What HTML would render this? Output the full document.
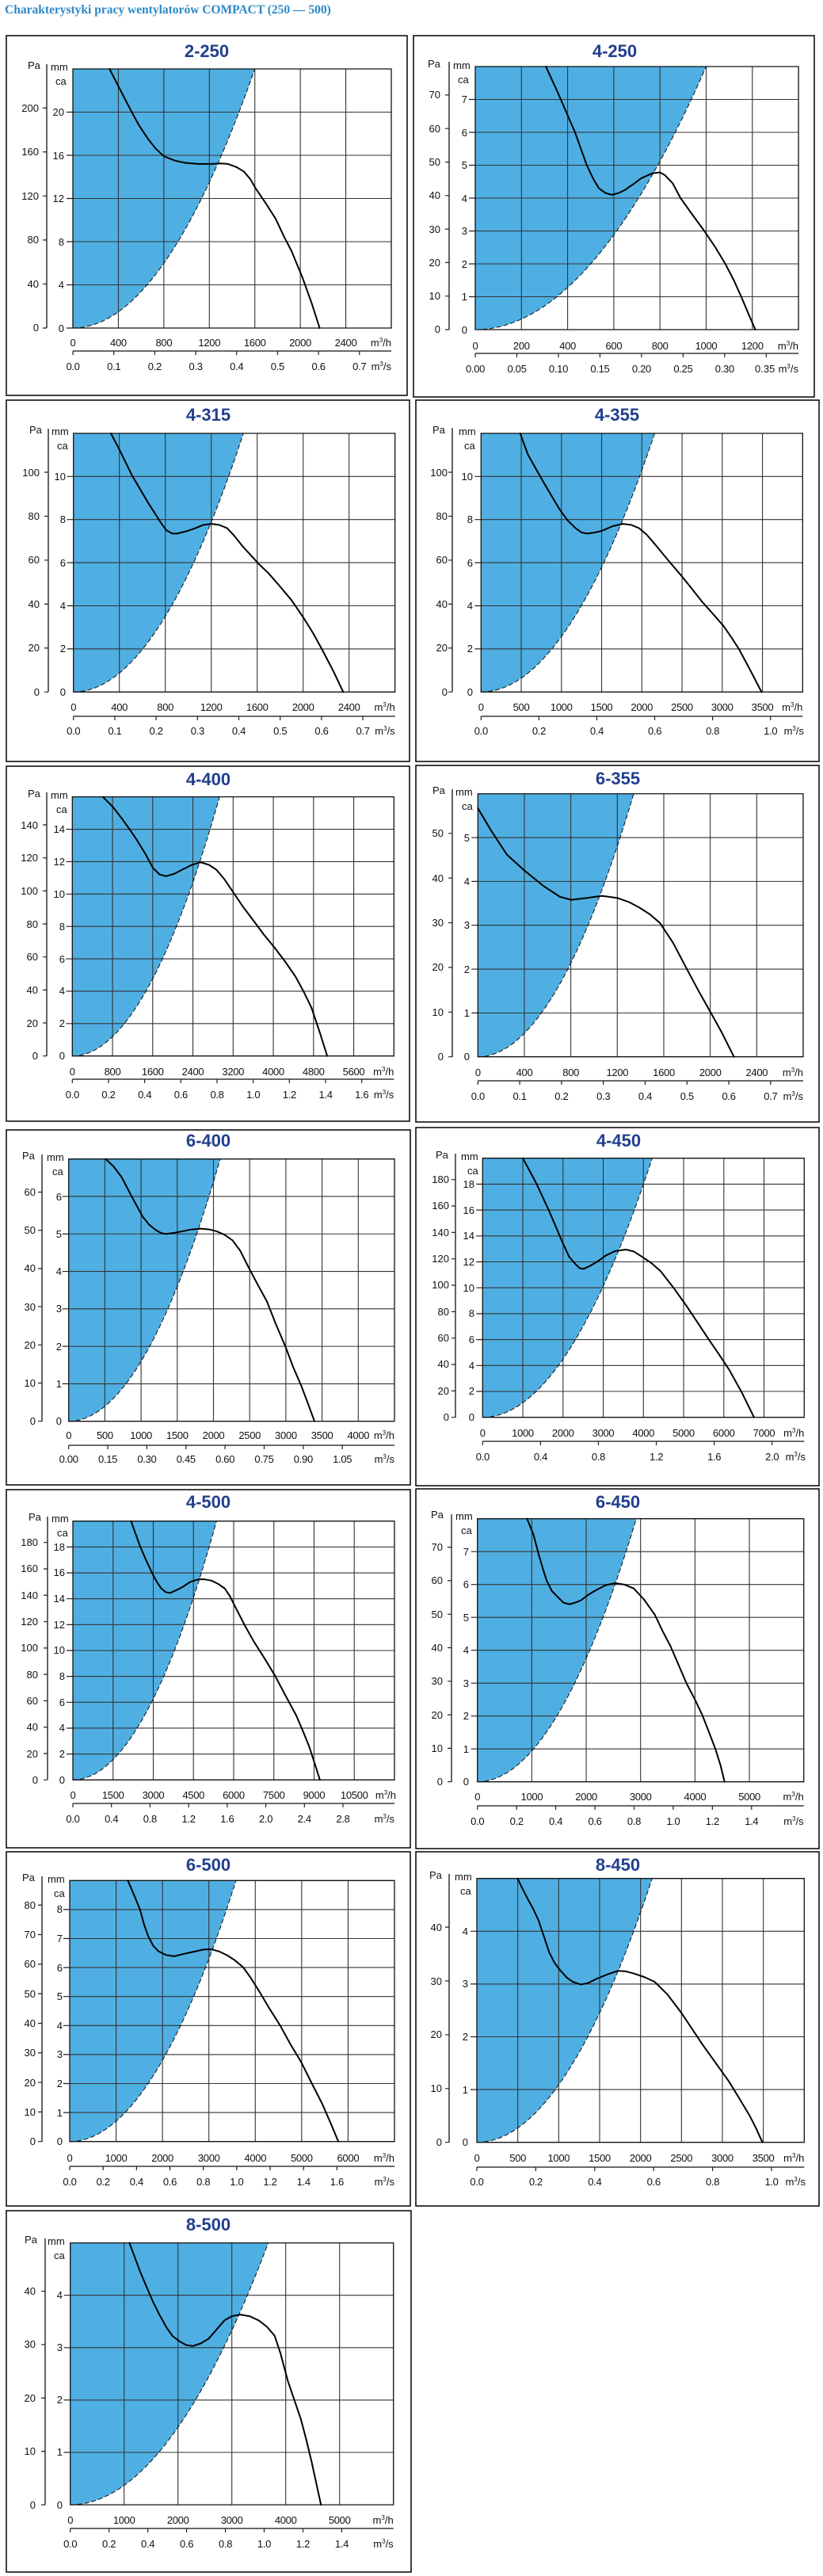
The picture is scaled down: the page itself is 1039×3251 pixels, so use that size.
<!DOCTYPE html>
<html><head><meta charset="utf-8"><style>
body{margin:0;width:1039px;height:3251px;position:relative;background:#fff;font-family:"Liberation Sans",Arial,sans-serif;overflow:hidden;color:#111}
svg{position:absolute;left:0;top:0}
.g path,.g rect,.g polyline{vector-effect:non-scaling-stroke}
.fl{fill:#4fafe2;stroke:none}
.gr{fill:none;stroke:#333;stroke-width:1.1}
.bd{fill:none;stroke:#111;stroke-width:1.3}
.ds{fill:none;stroke:#111;stroke-width:1;stroke-dasharray:6 3}
.cv{fill:none;stroke:#000;stroke-width:2;stroke-linejoin:round;stroke-linecap:round}
.tk{fill:none;stroke:#222;stroke-width:1.2}
.x{position:absolute;display:flex;font-size:13px;height:16px;line-height:16px;letter-spacing:-0.3px}
.x span{flex:1;text-align:center;white-space:nowrap}
.y{position:absolute;display:flex;flex-direction:column;font-size:13px;width:40px}
.y span{flex:1;display:flex;align-items:center;justify-content:flex-end}
.u{position:absolute;font-size:13px;line-height:16px;width:40px;text-align:right}
.u sup{font-size:8px;vertical-align:5px;line-height:0}
.l{position:absolute;font-size:13px;line-height:16px}
.t{position:absolute;font-weight:bold;color:#213f8d;font-size:22px;line-height:24px;width:120px;margin-left:-60px;text-align:center}
.h{position:absolute;left:6px;top:4px;font-family:"Liberation Serif",serif;font-weight:bold;font-size:15.5px;color:#2c88c6}
</style></head><body>
<svg width="1039" height="3251" viewBox="0 0 1039 3251">
<g fill="none" stroke="#000" stroke-width="1.5">
<rect x="8" y="45" width="506" height="454"/><rect x="522" y="45" width="506" height="456"/>
<rect x="8" y="505" width="509" height="456"/><rect x="525" y="505" width="509" height="456"/>
<rect x="8" y="967" width="509" height="448"/><rect x="525" y="966" width="509" height="450"/>
<rect x="8" y="1426" width="510" height="448"/><rect x="525" y="1423" width="509" height="452"/>
<rect x="8" y="1880" width="510" height="452"/><rect x="525" y="1879" width="509" height="454"/>
<rect x="8" y="2337" width="510" height="447"/><rect x="525" y="2337" width="509" height="447"/>
<rect x="8" y="2790" width="511" height="456"/>
</g>
<g stroke="#111" stroke-width="1.3">
<line x1="59" y1="81" x2="59" y2="414"/><line x1="567" y1="78" x2="567" y2="416"/>
<line x1="61" y1="541" x2="61" y2="873"/><line x1="571" y1="540" x2="571" y2="873"/>
<line x1="59" y1="1000" x2="59" y2="1333"/><line x1="571" y1="996" x2="571" y2="1334"/>
<line x1="53" y1="1457" x2="53" y2="1794"/><line x1="575" y1="1456" x2="575" y2="1789"/>
<line x1="60" y1="1914" x2="60" y2="2246"/><line x1="570" y1="1911" x2="570" y2="2249"/>
<line x1="53" y1="2368" x2="53" y2="2703"/><line x1="567" y1="2365" x2="567" y2="2704"/>
<line x1="57" y1="2825" x2="57" y2="3161"/>
<line x1="92" y1="443" x2="494" y2="443"/><line x1="600" y1="446" x2="1008" y2="446"/>
<line x1="92.7" y1="904" x2="498.7" y2="904"/><line x1="607.3" y1="904" x2="1013.3" y2="904"/>
<line x1="91.3" y1="1362" x2="497.3" y2="1362"/><line x1="603.3" y1="1364" x2="1014" y2="1364"/>
<line x1="86.7" y1="1824" x2="498" y2="1824"/><line x1="609.3" y1="1819" x2="1015.3" y2="1819"/>
<line x1="92" y1="2276" x2="498" y2="2276"/><line x1="602.7" y1="2279" x2="1014.7" y2="2279"/>
<line x1="88" y1="2734" x2="498" y2="2734"/><line x1="602" y1="2735" x2="1015.3" y2="2735"/>
<line x1="88.7" y1="3191" x2="496.7" y2="3191"/>
</g>

<!-- P1 -->
<g class="g" transform="translate(92,414) scale(0.14357,-13.625)">
<path class="fl" d="M0,0Q800,0 1600,24L0,24Z"/>
<path class="gr" d="M400,0V24M800,0V24M1200,0V24M1600,0V24M2000,0V24M2400,0V24M0,4H2800M0,8H2800M0,12H2800M0,16H2800M0,20H2800"/>
<path class="ds" d="M0,0Q800,0 1600,24"/>
<rect class="bd" x="0" y="0" width="2800" height="24"/>
<path class="tk" d="M0,0H-0"/>
<polyline class="cv" points="322,24 498,20.4 580,18.8 662,17.5 730,16.6 802,15.9 900,15.5 988,15.3 1100,15.2 1223,15.2 1300,15.25 1363,15.2 1440,14.9 1503,14.5 1560,13.8 1609,12.9 1700,11.5 1784,10.1 1860,8.4 1924,7.1 2018,4.7 2100,2.3 2170,0"/>
</g>
<g class="g" transform="translate(92,443) scale(0.14357,1)"><path class="tk" d="M0,0V5M360,0V5M720,0V5M1080,0V5M1440,0V5M1800,0V5M2160,0V5M2520,0V5"/></g>
<g class="g" transform="translate(59,414) scale(1,-1.3889)"><path class="tk" d="M-5,0H0M-5,40H0M-5,80H0M-5,120H0M-5,160H0M-5,200H0"/></g>
<g class="g" transform="translate(92,414) scale(1,-13.625)"><path class="tk" d="M-8,0H0M-8,4H0M-8,8H0M-8,12H0M-8,16H0M-8,20H0"/></g>

<!-- P2 -->
<g class="g" transform="translate(600,416) scale(0.2915,-41.5)">
<path class="fl" d="M0,0Q500,0 1000,8L0,8Z"/>
<path class="gr" d="M200,0V8M400,0V8M600,0V8M800,0V8M1000,0V8M1200,0V8M0,1H1400M0,2H1400M0,3H1400M0,4H1400M0,5H1400M0,6H1400M0,7H1400"/>
<path class="ds" d="M0,0Q500,0 1000,8"/>
<rect class="bd" x="0" y="0" width="1400" height="8"/>
<polyline class="cv" points="306,8 358,7.2 432,6 483,5 510,4.6 535,4.3 565,4.15 592,4.1 620,4.15 649,4.25 690,4.45 718,4.6 769,4.76 800,4.78 821,4.7 855,4.45 889,4 940,3.5 992,3 1040,2.5 1083,2 1120,1.5 1152,1 1185,0.45 1213,0"/>
</g>
<g class="g" transform="translate(600,446) scale(0.2915,1)"><path class="tk" d="M0,0V5M180,0V5M360,0V5M540,0V5M720,0V5M900,0V5M1080,0V5M1260,0V5"/></g>
<g class="g" transform="translate(567,416) scale(1,-4.23)"><path class="tk" d="M-5,0H0M-5,10H0M-5,20H0M-5,30H0M-5,40H0M-5,50H0M-5,60H0M-5,70H0"/></g>
<g class="g" transform="translate(600,416) scale(1,-41.5)"><path class="tk" d="M-8,1H0M-8,2H0M-8,3H0M-8,4H0M-8,5H0M-8,6H0M-8,7H0"/></g>

<!-- P3 -->
<g class="g" transform="translate(92.7,873.3) scale(0.145,-27.2)">
<path class="fl" d="M0,0Q740,0 1480,12L0,12Z"/>
<path class="gr" d="M400,0V12M800,0V12M1200,0V12M1600,0V12M2000,0V12M2400,0V12M0,2H2800M0,4H2800M0,6H2800M0,8H2800M0,10H2800"/>
<path class="ds" d="M0,0Q740,0 1480,12"/>
<rect class="bd" x="0" y="0" width="2800" height="12"/>
<polyline class="cv" points="326,12 395,11.3 510,10.05 648,8.8 720,8.2 763,7.84 810,7.5 860,7.35 901,7.35 980,7.45 1062,7.6 1130,7.75 1200,7.8 1270,7.75 1338,7.6 1400,7.25 1476,6.74 1614,5.94 1700,5.5 1798,4.9 1900,4.25 2005,3.43 2090,2.7 2166,1.96 2260,1 2349,0"/>
</g>
<g class="g" transform="translate(92.7,904) scale(0.145,1)"><path class="tk" d="M0,0V5M360,0V5M720,0V5M1080,0V5M1440,0V5M1800,0V5M2160,0V5M2520,0V5"/></g>
<g class="g" transform="translate(61,873.3) scale(1,-2.7727)"><path class="tk" d="M-5,0H0M-5,20H0M-5,40H0M-5,60H0M-5,80H0M-5,100H0"/></g>
<g class="g" transform="translate(92.7,873.3) scale(1,-27.2)"><path class="tk" d="M-8,2H0M-8,4H0M-8,6H0M-8,8H0M-8,10H0"/></g>

<!-- P4 -->
<g class="g" transform="translate(607.3,873.3) scale(0.1015,-27.2)">
<path class="fl" d="M0,0Q1080,0 2160,12L0,12Z"/>
<path class="gr" d="M500,0V12M1000,0V12M1500,0V12M2000,0V12M2500,0V12M3000,0V12M3500,0V12M0,2H4000M0,4H4000M0,6H4000M0,8H4000M0,10H4000"/>
<path class="ds" d="M0,0Q1080,0 2160,12"/>
<rect class="bd" x="0" y="0" width="4000" height="12"/>
<polyline class="cv" points="486,12 585,11 782,9.7 979,8.46 1080,7.95 1176,7.6 1250,7.4 1321,7.35 1420,7.4 1505,7.48 1640,7.7 1767,7.8 1870,7.75 1965,7.6 2060,7.3 2162,6.86 2330,6.1 2490,5.4 2620,4.8 2753,4.17 2890,3.6 3016,3.06 3120,2.5 3213,1.96 3350,1 3489,0"/>
</g>
<g class="g" transform="translate(607.3,904) scale(0.1015,1)"><path class="tk" d="M0,0V5M720,0V5M1440,0V5M2160,0V5M2880,0V5M3600,0V5"/></g>
<g class="g" transform="translate(571,873.3) scale(1,-2.7727)"><path class="tk" d="M-5,0H0M-5,20H0M-5,40H0M-5,60H0M-5,80H0M-5,100H0"/></g>
<g class="g" transform="translate(607.3,873.3) scale(1,-27.2)"><path class="tk" d="M-8,2H0M-8,4H0M-8,6H0M-8,8H0M-8,10H0"/></g>

<!-- P5 -->
<g class="g" transform="translate(91.3,1332.7) scale(0.06344,-20.44)">
<path class="fl" d="M0,0Q1465,0 2930,16L0,16Z"/>
<path class="gr" d="M800,0V16M1600,0V16M2400,0V16M3200,0V16M4000,0V16M4800,0V16M5600,0V16M0,2H6400M0,4H6400M0,6H6400M0,8H6400M0,10H6400M0,12H6400M0,14H6400"/>
<path class="ds" d="M0,0Q1465,0 2930,16"/>
<rect class="bd" x="0" y="0" width="6400" height="16"/>
<polyline class="cv" points="609,16 800,15.4 977,14.7 1140,14 1292,13.3 1450,12.5 1607,11.6 1740,11.2 1869,11.1 2030,11.25 2184,11.5 2380,11.8 2552,11.96 2720,11.8 2867,11.5 3030,10.9 3182,10.2 3400,9.2 3602,8.37 3810,7.5 4022,6.7 4230,5.85 4442,4.9 4600,4 4757,3 4920,1.5 5072,0"/>
</g>
<g class="g" transform="translate(91.3,1362) scale(0.06344,1)"><path class="tk" d="M0,0V5M720,0V5M1440,0V5M2160,0V5M2880,0V5M3600,0V5M4320,0V5M5040,0V5M5760,0V5"/></g>
<g class="g" transform="translate(59,1332.7) scale(1,-2.0836)"><path class="tk" d="M-5,0H0M-5,20H0M-5,40H0M-5,60H0M-5,80H0M-5,100H0M-5,120H0M-5,140H0"/></g>
<g class="g" transform="translate(91.3,1332.7) scale(1,-20.44)"><path class="tk" d="M-8,2H0M-8,4H0M-8,6H0M-8,8H0M-8,10H0M-8,12H0M-8,14H0"/></g>

<!-- P6 -->
<g class="g" transform="translate(603.3,1333.7) scale(0.14667,-55.33)">
<path class="fl" d="M0,0Q670,0 1341,6L0,6Z"/>
<path class="gr" d="M400,0V6M800,0V6M1200,0V6M1600,0V6M2000,0V6M2400,0V6M0,1H2800M0,2H2800M0,3H2800M0,4H2800M0,5H2800"/>
<path class="ds" d="M0,0Q670,0 1341,6"/>
<rect class="bd" x="0" y="0" width="2800" height="6"/>
<polyline class="cv" points="0,5.67 114,5.16 250,4.61 400,4.25 568,3.89 705,3.65 804,3.58 932,3.62 1068,3.67 1204,3.62 1300,3.53 1386,3.41 1480,3.25 1568,3.05 1680,2.6 1795,2.02 1900,1.5 2000,1.03 2100,0.55 2204,0"/>
</g>
<g class="g" transform="translate(603.3,1364) scale(0.14667,1)"><path class="tk" d="M0,0V5M360,0V5M720,0V5M1080,0V5M1440,0V5M1800,0V5M2160,0V5M2520,0V5"/></g>
<g class="g" transform="translate(571,1333.7) scale(1,-5.64)"><path class="tk" d="M-5,0H0M-5,10H0M-5,20H0M-5,30H0M-5,40H0M-5,50H0"/></g>
<g class="g" transform="translate(603.3,1333.7) scale(1,-55.33)"><path class="tk" d="M-8,1H0M-8,2H0M-8,3H0M-8,4H0M-8,5H0"/></g>

<!-- P7 -->
<g class="g" transform="translate(86.7,1793.7) scale(0.0914,-47.29)">
<path class="fl" d="M0,0Q1046,0 2093,7L0,7Z"/>
<path class="gr" d="M500,0V7M1000,0V7M1500,0V7M2000,0V7M2500,0V7M3000,0V7M3500,0V7M4000,0V7M0,1H4500M0,2H4500M0,3H4500M0,4H4500M0,5H4500M0,6H4500"/>
<path class="ds" d="M0,0Q1046,0 2093,7"/>
<rect class="bd" x="0" y="0" width="4500" height="7"/>
<polyline class="cv" points="511,7 620,6.8 730,6.52 870,6 1022,5.46 1110,5.25 1205,5.1 1280,5.02 1351,5 1460,5.03 1570,5.07 1700,5.12 1825,5.14 1940,5.12 2044,5.07 2150,4.98 2263,4.83 2370,4.55 2482,4.12 2610,3.65 2738,3.2 2860,2.6 2993,2 3100,1.45 3212,0.95 3300,0.5 3395,0"/>
</g>
<g class="g" transform="translate(86.7,1824) scale(0.0914,1)"><path class="tk" d="M0,0V5M540,0V5M1080,0V5M1620,0V5M2160,0V5M2700,0V5M3240,0V5M3780,0V5"/></g>
<g class="g" transform="translate(53,1793.7) scale(1,-4.8206)"><path class="tk" d="M-5,0H0M-5,10H0M-5,20H0M-5,30H0M-5,40H0M-5,50H0M-5,60H0"/></g>
<g class="g" transform="translate(86.7,1793.7) scale(1,-47.29)"><path class="tk" d="M-8,1H0M-8,2H0M-8,3H0M-8,4H0M-8,5H0M-8,6H0"/></g>

<!-- P8 -->
<g class="g" transform="translate(609.3,1788.7) scale(0.05075,-16.35)">
<path class="fl" d="M0,0Q2108,0 4217,20L0,20Z"/>
<path class="gr" d="M1000,0V20M2000,0V20M3000,0V20M4000,0V20M5000,0V20M6000,0V20M7000,0V20M0,2H8000M0,4H8000M0,6H8000M0,8H8000M0,10H8000M0,12H8000M0,14H8000M0,16H8000M0,18H8000"/>
<path class="ds" d="M0,0Q2108,0 4217,20"/>
<rect class="bd" x="0" y="0" width="8000" height="20"/>
<polyline class="cv" points="1000,20 1329,18.1 1658,15.9 1987,13.5 2150,12.4 2316,11.8 2420,11.5 2514,11.46 2680,11.7 2843,12 3070,12.5 3303,12.84 3566,12.95 3760,12.8 3961,12.4 4200,11.9 4422,11.3 4750,10 5080,8.56 5350,7.3 5606,6.1 5870,4.9 6133,3.67 6450,1.9 6751,0"/>
</g>
<g class="g" transform="translate(609.3,1819) scale(0.05075,1)"><path class="tk" d="M0,0V5M1440,0V5M2880,0V5M4320,0V5M5760,0V5M7200,0V5"/></g>
<g class="g" transform="translate(575,1788.7) scale(1,-1.6667)"><path class="tk" d="M-5,0H0M-5,20H0M-5,40H0M-5,60H0M-5,80H0M-5,100H0M-5,120H0M-5,140H0M-5,160H0M-5,180H0"/></g>
<g class="g" transform="translate(609.3,1788.7) scale(1,-16.35)"><path class="tk" d="M-8,2H0M-8,4H0M-8,6H0M-8,8H0M-8,10H0M-8,12H0M-8,14H0M-8,16H0M-8,18H0"/></g>

<!-- P9 -->
<g class="g" transform="translate(92,2246.3) scale(0.03383,-16.33)">
<path class="fl" d="M0,0Q2680,0 5360,20L0,20Z"/>
<path class="gr" d="M1500,0V20M3000,0V20M4500,0V20M6000,0V20M7500,0V20M9000,0V20M10500,0V20M0,2H12000M0,4H12000M0,6H12000M0,8H12000M0,10H12000M0,12H12000M0,14H12000M0,16H12000M0,18H12000"/>
<path class="ds" d="M0,0Q2680,0 5360,20"/>
<rect class="bd" x="0" y="0" width="12000" height="20"/>
<polyline class="cv" points="2171,20 2507,18.06 2750,16.9 3000,15.8 3150,15.25 3296,14.8 3470,14.5 3632,14.45 3850,14.65 4086,14.9 4380,15.3 4678,15.5 4920,15.5 5172,15.4 5420,15.15 5665,14.8 5860,14.2 6060,13.37 6400,12 6751,10.7 7150,9.4 7541,8.06 7940,6.5 8330,5 8580,3.8 8824,2.55 9020,1.3 9219,0"/>
</g>
<g class="g" transform="translate(92,2276) scale(0.03383,1)"><path class="tk" d="M0,0V5M1440,0V5M2880,0V5M4320,0V5M5760,0V5M7200,0V5M8640,0V5M10080,0V5"/></g>
<g class="g" transform="translate(60,2246.3) scale(1,-1.6646)"><path class="tk" d="M-5,0H0M-5,20H0M-5,40H0M-5,60H0M-5,80H0M-5,100H0M-5,120H0M-5,140H0M-5,160H0M-5,180H0"/></g>
<g class="g" transform="translate(92,2246.3) scale(1,-16.33)"><path class="tk" d="M-8,2H0M-8,4H0M-8,6H0M-8,8H0M-8,10H0M-8,12H0M-8,14H0M-8,16H0M-8,18H0"/></g>

<!-- P10 -->
<g class="g" transform="translate(602.7,2248.7) scale(0.06867,-41.5)">
<path class="fl" d="M0,0Q1460,0 2921,8L0,8Z"/>
<path class="gr" d="M1000,0V8M2000,0V8M3000,0V8M4000,0V8M5000,0V8M0,1H6000M0,2H6000M0,3H6000M0,4H6000M0,5H6000M0,6H6000M0,7H6000"/>
<path class="ds" d="M0,0Q1460,0 2921,8"/>
<rect class="bd" x="0" y="0" width="6000" height="8"/>
<polyline class="cv" points="913,8 1029,7.53 1126,6.92 1200,6.5 1272,6.12 1370,5.8 1466,5.64 1580,5.45 1690,5.4 1800,5.45 1903,5.52 2050,5.7 2194,5.84 2360,5.98 2534,6.04 2700,6 2874,5.88 3060,5.55 3262,5.08 3400,4.6 3554,4.11 3700,3.55 3845,2.99 4000,2.5 4137,2.02 4260,1.5 4379,0.98 4470,0.5 4544,0"/>
</g>
<g class="g" transform="translate(602.7,2279) scale(0.06867,1)"><path class="tk" d="M0,0V5M720,0V5M1440,0V5M2160,0V5M2880,0V5M3600,0V5M4320,0V5M5040,0V5"/></g>
<g class="g" transform="translate(570,2248.7) scale(1,-4.23)"><path class="tk" d="M-5,0H0M-5,10H0M-5,20H0M-5,30H0M-5,40H0M-5,50H0M-5,60H0M-5,70H0"/></g>
<g class="g" transform="translate(602.7,2248.7) scale(1,-41.5)"><path class="tk" d="M-8,1H0M-8,2H0M-8,3H0M-8,4H0M-8,5H0M-8,6H0M-8,7H0"/></g>

<!-- P11 -->
<g class="g" transform="translate(88,2702.7) scale(0.05857,-36.6)">
<path class="fl" d="M0,0Q1792,0 3585,9L0,9Z"/>
<path class="gr" d="M1000,0V9M2000,0V9M3000,0V9M4000,0V9M5000,0V9M6000,0V9M0,1H7000M0,2H7000M0,3H7000M0,4H7000M0,5H7000M0,6H7000M0,7H7000M0,8H7000"/>
<path class="ds" d="M0,0Q1792,0 3585,9"/>
<rect class="bd" x="0" y="0" width="7000" height="9"/>
<polyline class="cv" points="1254,9 1400,8.45 1516,8 1600,7.5 1687,7.1 1800,6.75 1915,6.56 2080,6.43 2257,6.39 2490,6.48 2713,6.56 2880,6.62 3055,6.63 3230,6.55 3397,6.42 3560,6.25 3739,6.01 3900,5.65 4081,5.19 4300,4.6 4537,4 4760,3.35 4993,2.73 5220,2 5449,1.28 5620,0.65 5791,0"/>
</g>
<g class="g" transform="translate(88,2734) scale(0.05857,1)"><path class="tk" d="M0,0V5M720,0V5M1440,0V5M2160,0V5M2880,0V5M3600,0V5M4320,0V5M5040,0V5M5760,0V5"/></g>
<g class="g" transform="translate(53,2702.7) scale(1,-3.7309)"><path class="tk" d="M-5,0H0M-5,10H0M-5,20H0M-5,30H0M-5,40H0M-5,50H0M-5,60H0M-5,70H0M-5,80H0"/></g>
<g class="g" transform="translate(88,2702.7) scale(1,-36.6)"><path class="tk" d="M-8,1H0M-8,2H0M-8,3H0M-8,4H0M-8,5H0M-8,6H0M-8,7H0M-8,8H0"/></g>

<!-- P12 -->
<g class="g" transform="translate(602,2703.7) scale(0.10333,-66.6)">
<path class="fl" d="M0,0Q1071,0 2142,5L0,5Z"/>
<path class="gr" d="M500,0V5M1000,0V5M1500,0V5M2000,0V5M2500,0V5M3000,0V5M3500,0V5M0,1H4000M0,2H4000M0,3H4000M0,4H4000"/>
<path class="ds" d="M0,0Q1071,0 2142,5"/>
<rect class="bd" x="0" y="0" width="4000" height="5"/>
<polyline class="cv" points="497,5 560,4.8 626,4.6 690,4.42 755,4.2 820,3.9 884,3.6 950,3.4 1013,3.27 1100,3.12 1174,3.04 1271,2.99 1360,3.02 1464,3.1 1590,3.18 1722,3.25 1820,3.24 1916,3.2 2050,3.13 2174,3.04 2330,2.8 2496,2.46 2630,2.15 2754,1.86 2920,1.5 3077,1.16 3200,0.85 3335,0.5 3410,0.27 3489,0"/>
</g>
<g class="g" transform="translate(602,2735) scale(0.10333,1)"><path class="tk" d="M0,0V5M720,0V5M1440,0V5M2160,0V5M2880,0V5M3600,0V5"/></g>
<g class="g" transform="translate(567,2703.7) scale(1,-6.789)"><path class="tk" d="M-5,0H0M-5,10H0M-5,20H0M-5,30H0M-5,40H0"/></g>
<g class="g" transform="translate(602,2703.7) scale(1,-66.6)"><path class="tk" d="M-8,1H0M-8,2H0M-8,3H0M-8,4H0"/></g>

<!-- P13 -->
<g class="g" transform="translate(88.7,3161.1) scale(0.068,-66.1)">
<path class="fl" d="M0,0Q1838,0 3676,5L0,5Z"/>
<path class="gr" d="M1000,0V5M2000,0V5M3000,0V5M4000,0V5M5000,0V5M0,1H6000M0,2H6000M0,3H6000M0,4H6000"/>
<path class="ds" d="M0,0Q1838,0 3676,5"/>
<rect class="bd" x="0" y="0" width="6000" height="5"/>
<polyline class="cv" points="1098,5 1200,4.72 1294,4.46 1420,4.15 1539,3.87 1660,3.62 1784,3.39 1900,3.22 2029,3.12 2150,3.05 2274,3.03 2420,3.08 2568,3.17 2720,3.35 2862,3.52 3000,3.6 3156,3.63 3330,3.6 3499,3.52 3650,3.4 3793,3.23 3900,2.9 4038,2.37 4160,2 4283,1.63 4380,1.25 4479,0.83 4570,0.4 4655,0"/>
</g>
<g class="g" transform="translate(88.7,3191) scale(0.068,1)"><path class="tk" d="M0,0V5M720,0V5M1440,0V5M2160,0V5M2880,0V5M3600,0V5M4320,0V5M5040,0V5"/></g>
<g class="g" transform="translate(57,3161.1) scale(1,-6.738)"><path class="tk" d="M-5,0H0M-5,10H0M-5,20H0M-5,30H0M-5,40H0"/></g>
<g class="g" transform="translate(88.7,3161.1) scale(1,-66.1)"><path class="tk" d="M-8,1H0M-8,2H0M-8,3H0M-8,4H0"/></g>
</svg>

<div class="h">Charakterystyki pracy wentylatorów COMPACT (250 — 500)</div>

<!-- P1 labels -->
<div class="t" style="left:261px;top:53px">2-250</div>
<div class="l" style="left:35px;top:75px">Pa</div><div class="l" style="left:64px;top:77px">mm</div><div class="l" style="left:70px;top:95px">ca</div>
<div class="y" style="left:9px;top:108.4px;height:333.4px"><span>200</span><span>160</span><span>120</span><span>80</span><span>40</span><span>0</span></div>
<div class="y" style="left:41px;top:114.25px;height:327px"><span>20</span><span>16</span><span>12</span><span>8</span><span>4</span><span>0</span></div>
<div class="x" style="left:63.3px;top:425px;width:402px"><span>0</span><span>400</span><span>800</span><span>1200</span><span>1600</span><span>2000</span><span>2400</span></div>
<div class="u" style="left:454px;top:425px">m<sup>3</sup>/h</div>
<div class="x" style="left:66.2px;top:455px;width:413.4px"><span>0.0</span><span>0.1</span><span>0.2</span><span>0.3</span><span>0.4</span><span>0.5</span><span>0.6</span><span>0.7</span></div>
<div class="u" style="left:454px;top:455px">m<sup>3</sup>/s</div>

<!-- P2 -->
<div class="t" style="left:776px;top:53px">4-250</div>
<div class="l" style="left:540px;top:73px">Pa</div><div class="l" style="left:572px;top:75px">mm</div><div class="l" style="left:578px;top:93px">ca</div>
<div class="y" style="left:516px;top:98.75px;height:338.4px"><span>70</span><span>60</span><span>50</span><span>40</span><span>30</span><span>20</span><span>10</span><span>0</span></div>
<div class="y" style="left:550px;top:104.75px;height:332px"><span>7</span><span>6</span><span>5</span><span>4</span><span>3</span><span>2</span><span>1</span><span>0</span></div>
<div class="x" style="left:570.85px;top:429px;width:408.1px"><span>0</span><span>200</span><span>400</span><span>600</span><span>800</span><span>1000</span><span>1200</span></div>
<div class="u" style="left:968px;top:429px">m<sup>3</sup>/h</div>
<div class="x" style="left:573.8px;top:458px;width:367.3px"><span>0.00</span><span>0.05</span><span>0.10</span><span>0.15</span><span>0.20</span><span>0.25</span><span>0.30</span></div>
<div class="l" style="left:953px;top:458px">0.35</div>
<div class="u" style="left:968px;top:458px">m<sup>3</sup>/s</div>

<!-- P3 -->
<div class="t" style="left:263px;top:512px">4-315</div>
<div class="l" style="left:37px;top:535px">Pa</div><div class="l" style="left:65px;top:537px">mm</div><div class="l" style="left:72px;top:555px">ca</div>
<div class="y" style="left:10px;top:568.35px;height:332.7px"><span>100</span><span>80</span><span>60</span><span>40</span><span>20</span><span>0</span></div>
<div class="y" style="left:43px;top:574.1px;height:326.4px"><span>10</span><span>8</span><span>6</span><span>4</span><span>2</span><span>0</span></div>
<div class="x" style="left:63.7px;top:885px;width:406px"><span>0</span><span>400</span><span>800</span><span>1200</span><span>1600</span><span>2000</span><span>2400</span></div>
<div class="u" style="left:458.7px;top:885px">m<sup>3</sup>/h</div>
<div class="x" style="left:66.6px;top:915px;width:417.6px"><span>0.0</span><span>0.1</span><span>0.2</span><span>0.3</span><span>0.4</span><span>0.5</span><span>0.6</span><span>0.7</span></div>
<div class="u" style="left:458.7px;top:915px">m<sup>3</sup>/s</div>

<!-- P4 -->
<div class="t" style="left:779px;top:512px">4-355</div>
<div class="l" style="left:546px;top:535px">Pa</div><div class="l" style="left:579px;top:537px">mm</div><div class="l" style="left:586px;top:555px">ca</div>
<div class="y" style="left:525px;top:568.35px;height:332.7px"><span>100</span><span>80</span><span>60</span><span>40</span><span>20</span><span>0</span></div>
<div class="y" style="left:557px;top:574.1px;height:326.4px"><span>10</span><span>8</span><span>6</span><span>4</span><span>2</span><span>0</span></div>
<div class="x" style="left:581.9px;top:885px;width:406px"><span>0</span><span>500</span><span>1000</span><span>1500</span><span>2000</span><span>2500</span><span>3000</span><span>3500</span></div>
<div class="u" style="left:973.3px;top:885px">m<sup>3</sup>/h</div>
<div class="x" style="left:570.8px;top:915px;width:438.5px"><span>0.0</span><span>0.2</span><span>0.4</span><span>0.6</span><span>0.8</span><span>1.0</span></div>
<div class="u" style="left:975px;top:915px">m<sup>3</sup>/s</div>

<!-- P5 -->
<div class="t" style="left:263px;top:972px">4-400</div>
<div class="l" style="left:35px;top:994px">Pa</div><div class="l" style="left:64px;top:996px">mm</div><div class="l" style="left:71px;top:1014px">ca</div>
<div class="y" style="left:8px;top:1020.2px;height:333.4px"><span>140</span><span>120</span><span>100</span><span>80</span><span>60</span><span>40</span><span>20</span><span>0</span></div>
<div class="y" style="left:42px;top:1026.1px;height:327px"><span>14</span><span>12</span><span>10</span><span>8</span><span>6</span><span>4</span><span>2</span><span>0</span></div>
<div class="x" style="left:65.9px;top:1345px;width:406px"><span>0</span><span>800</span><span>1600</span><span>2400</span><span>3200</span><span>4000</span><span>4800</span><span>5600</span></div>
<div class="u" style="left:457.3px;top:1345px">m<sup>3</sup>/h</div>
<div class="x" style="left:68.5px;top:1374px;width:411px"><span>0.0</span><span>0.2</span><span>0.4</span><span>0.6</span><span>0.8</span><span>1.0</span><span>1.2</span><span>1.4</span><span>1.6</span></div>
<div class="u" style="left:457.3px;top:1374px">m<sup>3</sup>/s</div>

<!-- P6 -->
<div class="t" style="left:780px;top:971px">6-355</div>
<div class="l" style="left:546px;top:990px">Pa</div><div class="l" style="left:575px;top:992px">mm</div><div class="l" style="left:583px;top:1010px">ca</div>
<div class="y" style="left:520px;top:1023.5px;height:338.4px"><span>50</span><span>40</span><span>30</span><span>20</span><span>10</span><span>0</span></div>
<div class="y" style="left:553px;top:1029.4px;height:332px"><span>5</span><span>4</span><span>3</span><span>2</span><span>1</span><span>0</span></div>
<div class="x" style="left:574px;top:1346px;width:410.7px"><span>0</span><span>400</span><span>800</span><span>1200</span><span>1600</span><span>2000</span><span>2400</span></div>
<div class="u" style="left:974px;top:1346px">m<sup>3</sup>/h</div>
<div class="x" style="left:576.9px;top:1376px;width:422.4px"><span>0.0</span><span>0.1</span><span>0.2</span><span>0.3</span><span>0.4</span><span>0.5</span><span>0.6</span><span>0.7</span></div>
<div class="u" style="left:974px;top:1376px">m<sup>3</sup>/s</div>

<!-- P7 -->
<div class="t" style="left:263px;top:1428px">6-400</div>
<div class="l" style="left:28px;top:1451px">Pa</div><div class="l" style="left:59px;top:1453px">mm</div><div class="l" style="left:66px;top:1471px">ca</div>
<div class="y" style="left:5px;top:1480.4px;height:337.4px"><span>60</span><span>50</span><span>40</span><span>30</span><span>20</span><span>10</span><span>0</span></div>
<div class="y" style="left:38px;top:1486.4px;height:331px"><span>6</span><span>5</span><span>4</span><span>3</span><span>2</span><span>1</span><span>0</span></div>
<div class="x" style="left:63.85px;top:1804px;width:411.3px"><span>0</span><span>500</span><span>1000</span><span>1500</span><span>2000</span><span>2500</span><span>3000</span><span>3500</span><span>4000</span></div>
<div class="u" style="left:458px;top:1804px">m<sup>3</sup>/h</div>
<div class="x" style="left:62px;top:1834px;width:394.9px"><span>0.00</span><span>0.15</span><span>0.30</span><span>0.45</span><span>0.60</span><span>0.75</span><span>0.90</span><span>1.05</span></div>
<div class="u" style="left:458px;top:1834px">m<sup>3</sup>/s</div>

<!-- P8 -->
<div class="t" style="left:781px;top:1428px">4-450</div>
<div class="l" style="left:550px;top:1450px">Pa</div><div class="l" style="left:582px;top:1452px">mm</div><div class="l" style="left:590px;top:1470px">ca</div>
<div class="y" style="left:527px;top:1472px;height:333.3px"><span>180</span><span>160</span><span>140</span><span>120</span><span>100</span><span>80</span><span>60</span><span>40</span><span>20</span><span>0</span></div>
<div class="y" style="left:559px;top:1478px;height:327px"><span>18</span><span>16</span><span>14</span><span>12</span><span>10</span><span>8</span><span>6</span><span>4</span><span>2</span><span>0</span></div>
<div class="x" style="left:583.9px;top:1801px;width:406px"><span>0</span><span>1000</span><span>2000</span><span>3000</span><span>4000</span><span>5000</span><span>6000</span><span>7000</span></div>
<div class="u" style="left:975.3px;top:1801px">m<sup>3</sup>/h</div>
<div class="x" style="left:572.8px;top:1831px;width:438.5px"><span>0.0</span><span>0.4</span><span>0.8</span><span>1.2</span><span>1.6</span><span>2.0</span></div>
<div class="u" style="left:977px;top:1831px">m<sup>3</sup>/s</div>

<!-- P9 -->
<div class="t" style="left:263px;top:1884px">4-500</div>
<div class="l" style="left:36px;top:1907px">Pa</div><div class="l" style="left:65px;top:1909px">mm</div><div class="l" style="left:72px;top:1927px">ca</div>
<div class="y" style="left:8px;top:1930px;height:333px"><span>180</span><span>160</span><span>140</span><span>120</span><span>100</span><span>80</span><span>60</span><span>40</span><span>20</span><span>0</span></div>
<div class="y" style="left:42px;top:1936px;height:326.6px"><span>18</span><span>16</span><span>14</span><span>12</span><span>10</span><span>8</span><span>6</span><span>4</span><span>2</span><span>0</span></div>
<div class="x" style="left:66.6px;top:2258px;width:406px"><span>0</span><span>1500</span><span>3000</span><span>4500</span><span>6000</span><span>7500</span><span>9000</span><span>10500</span></div>
<div class="u" style="left:460px;top:2258px">m<sup>3</sup>/h</div>
<div class="x" style="left:67.6px;top:2288px;width:389.8px"><span>0.0</span><span>0.4</span><span>0.8</span><span>1.2</span><span>1.6</span><span>2.0</span><span>2.4</span><span>2.8</span></div>
<div class="u" style="left:458px;top:2288px">m<sup>3</sup>/s</div>

<!-- P10 -->
<div class="t" style="left:780px;top:1884px">6-450</div>
<div class="l" style="left:544px;top:1904px">Pa</div><div class="l" style="left:575px;top:1906px">mm</div><div class="l" style="left:582px;top:1924px">ca</div>
<div class="y" style="left:519px;top:1931.45px;height:338.4px"><span>70</span><span>60</span><span>50</span><span>40</span><span>30</span><span>20</span><span>10</span><span>0</span></div>
<div class="y" style="left:552px;top:1937.45px;height:332px"><span>7</span><span>6</span><span>5</span><span>4</span><span>3</span><span>2</span><span>1</span><span>0</span></div>
<div class="x" style="left:568.4px;top:2260px;width:412px"><span>0</span><span>1000</span><span>2000</span><span>3000</span><span>4000</span><span>5000</span></div>
<div class="u" style="left:974.7px;top:2260px">m<sup>3</sup>/h</div>
<div class="x" style="left:578px;top:2291px;width:395.5px"><span>0.0</span><span>0.2</span><span>0.4</span><span>0.6</span><span>0.8</span><span>1.0</span><span>1.2</span><span>1.4</span></div>
<div class="u" style="left:974.7px;top:2291px">m<sup>3</sup>/s</div>

<!-- P11 -->
<div class="t" style="left:263px;top:2342px">6-500</div>
<div class="l" style="left:28px;top:2362px">Pa</div><div class="l" style="left:60px;top:2364px">mm</div><div class="l" style="left:68px;top:2382px">ca</div>
<div class="y" style="left:5px;top:2385.55px;height:335.8px"><span>80</span><span>70</span><span>60</span><span>50</span><span>40</span><span>30</span><span>20</span><span>10</span><span>0</span></div>
<div class="y" style="left:39px;top:2391.6px;height:329.4px"><span>8</span><span>7</span><span>6</span><span>5</span><span>4</span><span>3</span><span>2</span><span>1</span><span>0</span></div>
<div class="x" style="left:58.7px;top:2716px;width:410px"><span>0</span><span>1000</span><span>2000</span><span>3000</span><span>4000</span><span>5000</span><span>6000</span></div>
<div class="u" style="left:458px;top:2716px">m<sup>3</sup>/h</div>
<div class="x" style="left:66.9px;top:2746px;width:379.5px"><span>0.0</span><span>0.2</span><span>0.4</span><span>0.6</span><span>0.8</span><span>1.0</span><span>1.2</span><span>1.4</span><span>1.6</span></div>
<div class="u" style="left:458px;top:2746px">m<sup>3</sup>/s</div>

<!-- P12 -->
<div class="t" style="left:780px;top:2342px">8-450</div>
<div class="l" style="left:542px;top:2359px">Pa</div><div class="l" style="left:574px;top:2361px">mm</div><div class="l" style="left:581px;top:2379px">ca</div>
<div class="y" style="left:518px;top:2398.2px;height:339.5px"><span>40</span><span>30</span><span>20</span><span>10</span><span>0</span></div>
<div class="y" style="left:551px;top:2404px;height:333px"><span>4</span><span>3</span><span>2</span><span>1</span><span>0</span></div>
<div class="x" style="left:576.2px;top:2716px;width:413.3px"><span>0</span><span>500</span><span>1000</span><span>1500</span><span>2000</span><span>2500</span><span>3000</span><span>3500</span></div>
<div class="u" style="left:975.3px;top:2716px">m<sup>3</sup>/h</div>
<div class="x" style="left:564.8px;top:2746px;width:446.4px"><span>0.0</span><span>0.2</span><span>0.4</span><span>0.6</span><span>0.8</span><span>1.0</span></div>
<div class="u" style="left:977px;top:2746px">m<sup>3</sup>/s</div>

<!-- P13 -->
<div class="t" style="left:263px;top:2796px">8-500</div>
<div class="l" style="left:31px;top:2819px">Pa</div><div class="l" style="left:60px;top:2821px">mm</div><div class="l" style="left:68px;top:2839px">ca</div>
<div class="y" style="left:5px;top:2857.9px;height:336.9px"><span>40</span><span>30</span><span>20</span><span>10</span><span>0</span></div>
<div class="y" style="left:39px;top:2863.65px;height:330.5px"><span>4</span><span>3</span><span>2</span><span>1</span><span>0</span></div>
<div class="x" style="left:54.7px;top:3172.6px;width:408px"><span>0</span><span>1000</span><span>2000</span><span>3000</span><span>4000</span><span>5000</span></div>
<div class="u" style="left:456.7px;top:3172.6px">m<sup>3</sup>/h</div>
<div class="x" style="left:64.2px;top:3202.6px;width:391.7px"><span>0.0</span><span>0.2</span><span>0.4</span><span>0.6</span><span>0.8</span><span>1.0</span><span>1.2</span><span>1.4</span></div>
<div class="u" style="left:456.7px;top:3202.6px">m<sup>3</sup>/s</div>
</body></html>
